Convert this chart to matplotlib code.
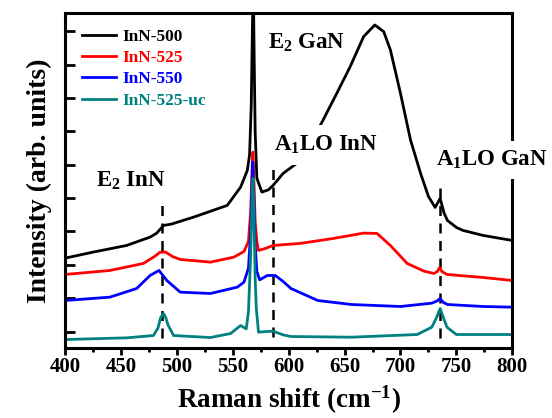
import matplotlib
matplotlib.use("Agg")
import matplotlib.pyplot as plt
from matplotlib.ticker import MultipleLocator

plt.rcParams['font.family'] = ['Liberation Serif', 'DejaVu Serif']
plt.rcParams['font.weight'] = 'bold'
plt.rcParams['axes.labelweight'] = 'bold'
plt.rcParams['mathtext.fontset'] = 'custom'
plt.rcParams['mathtext.rm'] = 'Liberation Serif:bold'
plt.rcParams['mathtext.bf'] = 'Liberation Serif:bold'
plt.rcParams['mathtext.it'] = 'Liberation Serif:bold:italic'

# Raman spectra (arbitrary units, offset for clarity)
shift_500 = [400, 425, 455, 476, 482, 488, 495, 515, 545, 557, 563, 565, 566.5, 567.5,
             568.3, 569.2, 570, 571.5, 576, 582, 586, 595, 612, 630, 643, 655, 667,
             677, 685, 691, 700, 709, 718, 725, 731, 735.5, 739, 742, 750, 756, 774, 800]
inn_500 = [2.20, 2.38, 2.58, 2.83, 2.95, 3.18, 3.22, 3.43, 3.78, 4.33, 4.83, 5.3, 6.8, 9.0,
           10.5, 8.0, 6.0, 4.6, 4.18, 4.25, 4.38, 4.74, 5.16, 6.29, 7.14, 7.94, 8.84,
           9.19, 8.99, 8.44, 7.14, 5.74, 4.74, 4.05, 3.72, 3.99, 3.55, 3.33, 3.12, 3.03, 2.88, 2.73]

shift_525 = [400, 440, 470, 480, 485, 490, 496, 503, 530, 551, 560, 564, 566, 567.3, 568,
             568.8, 570, 571.5, 573, 580, 586, 610, 640, 667, 679, 691, 706, 721, 730,
             733, 735, 737, 741.6, 774, 800]
inn_525 = [1.71, 1.83, 2.04, 2.25, 2.38, 2.38, 2.25, 2.16, 2.08, 2.23, 2.40, 2.7, 3.6, 4.9, 5.38,
           4.6, 3.3, 2.7, 2.43, 2.50, 2.58, 2.64, 2.79, 2.95, 2.94, 2.58, 2.04, 1.81, 1.74,
           1.80, 1.92, 1.80, 1.71, 1.62, 1.53]

shift_550 = [400, 440, 464, 476, 484, 491, 503, 530, 554, 560, 564, 566, 567.2, 567.8, 568.6,
             570, 571.5, 574, 581, 588, 595, 602, 626, 656, 700, 728, 733, 735.5, 738, 742,
             774, 800]
inn_550 = [0.93, 1.03, 1.29, 1.68, 1.83, 1.53, 1.18, 1.14, 1.33, 1.48, 1.9, 3.0, 4.5, 5.08, 4.3,
           2.6, 1.8, 1.55, 1.68, 1.68, 1.50, 1.29, 0.93, 0.81, 0.75, 0.85, 0.92, 0.99, 0.88, 0.81,
           0.75, 0.73]

shift_uc = [400, 455, 479, 483, 485.5, 488, 490, 492, 497, 530, 548, 557, 560, 562, 564, 566,
            567.5, 568.2, 569, 570, 571, 573, 580, 586, 595, 602, 656, 715, 728, 732, 735.5,
            738, 741.6, 750, 800]
inn_525_uc = [-0.24, -0.19, -0.12, 0.10, 0.42, 0.54, 0.42, 0.20, -0.12, -0.18, -0.06, 0.18, 0.12,
              0.08, 0.6, 2.3, 4.3, 4.6, 3.4, 1.6, 0.7, -0.02, 0.0, 0.01, -0.10, -0.15, -0.17,
              -0.09, 0.13, 0.40, 0.69, 0.45, 0.13, -0.09, -0.09]

labels = ['InN-500', 'InN-525', 'InN-550', 'InN-525-uc']
colors = ['black', '#ff0000', '#0000ff', '#008080']

# phonon mode positions: (shift, bottom, top)
modes = [(487, -0.2, 3.95), (586, -0.17, 4.92), (735, -0.2, 4.32)]

fig = plt.figure(figsize=(5.52, 4.18), dpi=100)
ax = fig.add_axes([0.118, 0.167, 0.810, 0.802])

series = [(shift_500, inn_500), (shift_525, inn_525), (shift_550, inn_550), (shift_uc, inn_525_uc)]
for (x, y), lab, c in zip(series, labels, colors):
    ax.plot(x, y, color=c, lw=2.0, label=lab)

for xm, y0, y1 in modes:
    ax.vlines(xm, y0, y1, colors='black', linestyles=(0, (4, 3)), lw=1.8, zorder=1)

ax.set_xlim(400, 800)
ax.set_ylim(-0.5, 9.55)
ax.xaxis.set_major_locator(MultipleLocator(50))
ax.xaxis.set_minor_locator(MultipleLocator(25))
ax.yaxis.set_major_locator(MultipleLocator(1))
ax.set_yticklabels([])
ax.tick_params(axis='x', which='major', direction='out', length=5, width=2, labelsize=15, pad=1)
ax.tick_params(axis='x', which='minor', direction='out', length=3, width=2)
ax.tick_params(axis='y', which='major', direction='in', length=7, width=2)
for s in ax.spines.values():
    s.set_linewidth(2.2)

ax.set_xlabel('Raman shift (cm$^{\\mathregular{-1}}$)', fontsize=19.5, labelpad=5)
ax.set_ylabel('Intensity (arb. units)', fontsize=20, labelpad=6)

ax.text(459, 4.53, 'E$_\\mathregular{2}$ InN', fontsize=16.5, ha='center', va='center')
ax.text(615.7, 8.65, 'E$_\\mathregular{2}$ GaN', fontsize=16.5, ha='center', va='center')
ax.text(633.5, 5.59, 'A$_\\mathregular{1}$LO InN', fontsize=16.5, ha='center', va='center',
        bbox=dict(facecolor='white', edgecolor='none', boxstyle='square,pad=0.4'))
ax.text(782, 5.14, 'A$_\\mathregular{1}$LO GaN', fontsize=16.5, ha='center', va='center', zorder=5,
        bbox=dict(facecolor='white', edgecolor='none', boxstyle='square,pad=0.35'))

leg = ax.legend(loc='upper left', frameon=False, fontsize=12.5, handlelength=2.0,
                handletextpad=0.35, labelspacing=0.3, borderaxespad=0.3,
                bbox_to_anchor=(0.01, 0.99))
for t, c in zip(leg.get_texts(), colors):
    t.set_color(c)

fig.savefig('out.png', dpi=100)
